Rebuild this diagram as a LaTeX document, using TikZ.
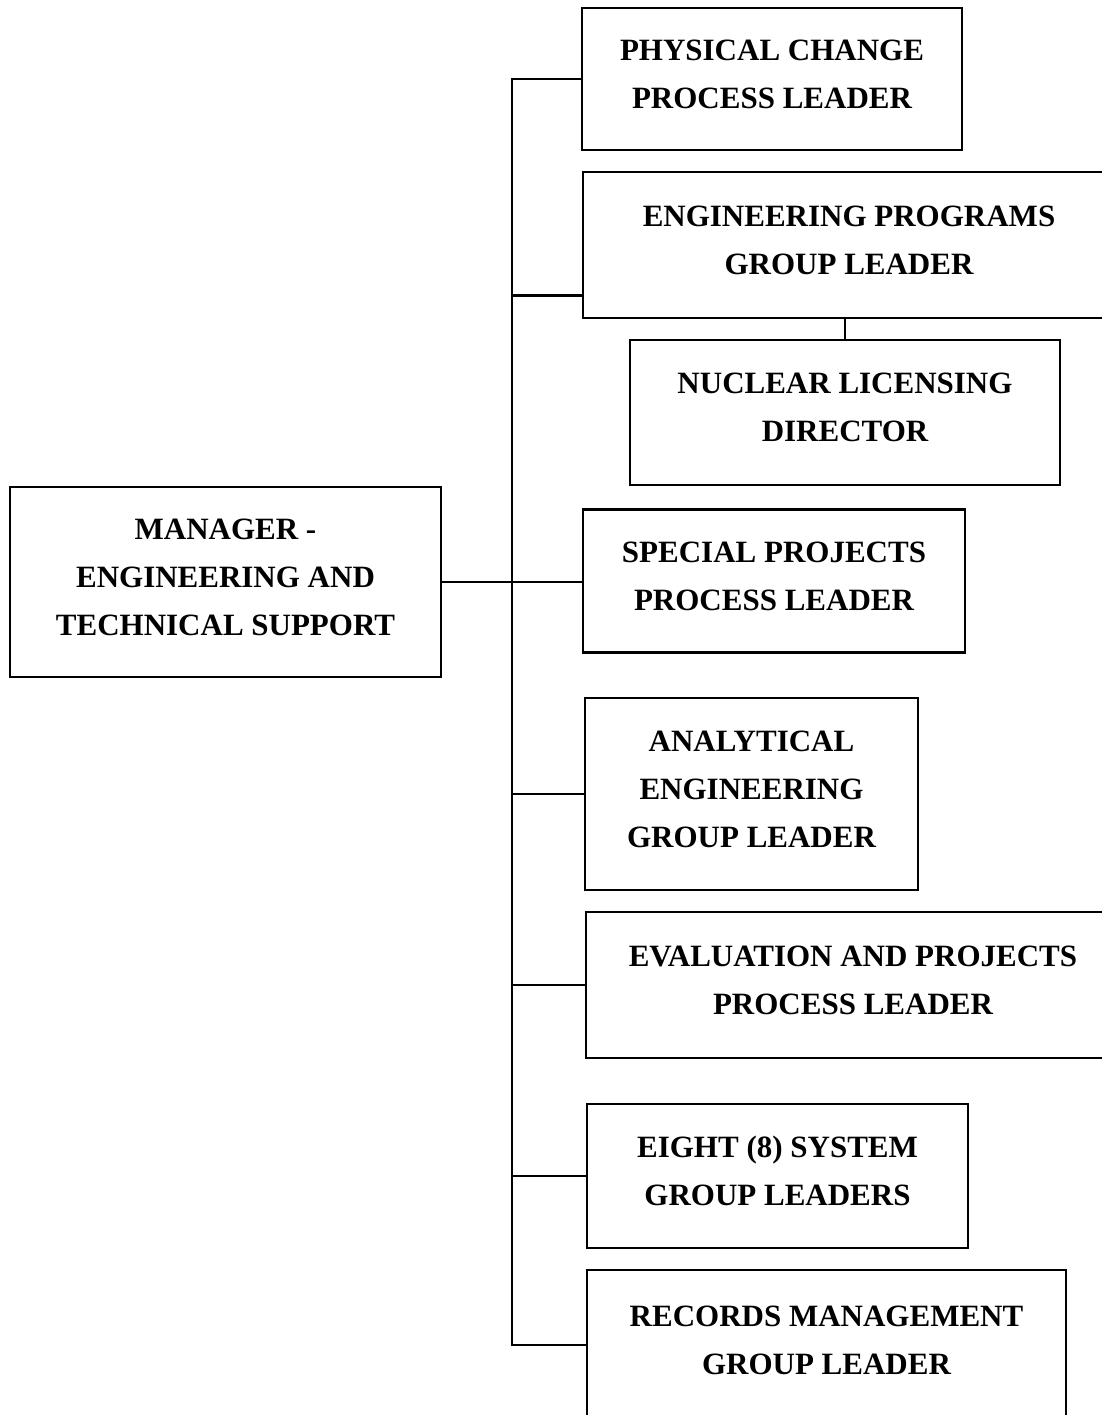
\documentclass[tikz,border=0pt]{standalone}
\usepackage{fontspec}
\setmainfont{Liberation Serif}
\begin{document}
\begin{tikzpicture}[x=1pt,y=-1pt,
  orgbox/.style={draw, line width=2.6pt, inner sep=0pt, align=center,
    text depth=10pt, font=\bfseries\fontsize{31}{48}\selectfont},
  link/.style={line width=2.4pt, line cap=rect}]
\useasboundingbox (0,0) rectangle (1102,1415);
\clip (0,0) rectangle (1102,1415);

% manager
\node[orgbox, minimum width=431pt, minimum height=190pt] (mgr) at (225.5,582)
  {MANAGER -\\ENGINEERING AND\\TECHNICAL SUPPORT};

% direct reports
\node[orgbox, minimum width=380pt, minimum height=142pt] (phys) at (772,79)
  {PHYSICAL CHANGE\\PROCESS LEADER};
\node[orgbox, minimum width=532pt, minimum height=146pt] (eng) at (849,245)
  {ENGINEERING PROGRAMS\\GROUP LEADER};
\node[orgbox, minimum width=430pt, minimum height=145pt] (nuc) at (845,412.5)
  {NUCLEAR LICENSING\\DIRECTOR};
\node[orgbox, minimum width=382pt, minimum height=143pt] (spec) at (774,581)
  {SPECIAL PROJECTS\\PROCESS LEADER};
\node[orgbox, minimum width=333pt, minimum height=192pt] (ana) at (751.5,794)
  {ANALYTICAL\\ENGINEERING\\GROUP LEADER};
\node[orgbox, minimum width=534pt, minimum height=146pt] (eval) at (853,985)
  {EVALUATION AND PROJECTS\\PROCESS LEADER};
\node[orgbox, minimum width=381pt, minimum height=144pt] (eight) at (777.5,1176)
  {EIGHT (8) SYSTEM\\GROUP LEADERS};
\node[orgbox, minimum width=479pt, minimum height=150pt] (rec) at (826.5,1345)
  {RECORDS MANAGEMENT\\GROUP LEADER};

% vertical trunk and branches
\coordinate (trunk) at (512,0);
\coordinate (engin) at ([yshift=24pt]eng.south west);
\draw[link] (trunk |- phys.west) -- (trunk |- rec.west);
\draw[link] (trunk |- phys.west) -- (phys.west);
\draw[link] (trunk |- engin) -- (engin);
\draw[link] (mgr.east) -- (mgr.east -| spec.west);
\draw[link] (trunk |- ana.west) -- (ana.west);
\draw[link] (trunk |- eval.west) -- (eval.west);
\draw[link] (trunk |- eight.west) -- (eight.west);
\draw[link] (trunk |- rec.west) -- (rec.west);
\draw[link] (eng.south -| nuc.north) -- (nuc.north);
\end{tikzpicture}
\end{document}
